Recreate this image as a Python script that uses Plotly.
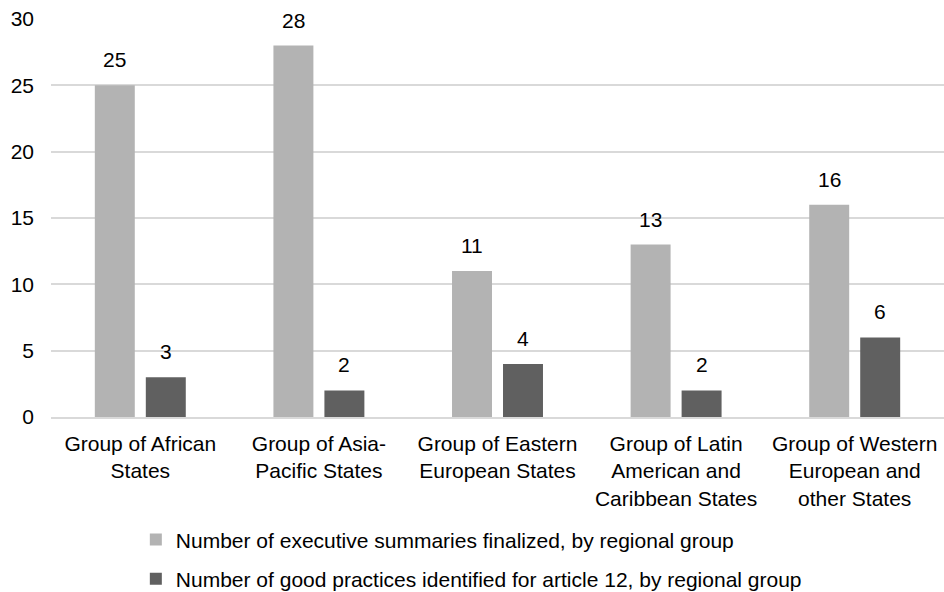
import plotly.graph_objects as go

categories = [
    "Group of African<br>States",
    "Group of Asia-<br>Pacific States",
    "Group of Eastern<br>European States",
    "Group of Latin<br>American and<br>Caribbean States",
    "Group of Western<br>European and<br>other States",
]
series_names = [
    "Number of executive summaries finalized, by regional group",
    "Number of good practices identified for article 12, by regional group",
]
summaries = [25, 28, 11, 13, 16]
good_practices = [3, 2, 4, 2, 6]
colors = ["#b3b3b3", "#606060"]
y_ticks = [0, 5, 10, 15, 20, 25, 30]

FONT = "Liberation Sans, Arial, sans-serif"
FS = 21

fig = go.Figure()
for i, (name, vals, col) in enumerate(zip(series_names, [summaries, good_practices], colors)):
    fig.add_trace(go.Bar(
        x=categories, y=vals, name=name, legendgroup=f"g{i}",
        marker=dict(color=col, line=dict(width=0)),
    ))

# data labels
shifts = [-25.5, 25.5]
for vals, sh in zip([summaries, good_practices], shifts):
    for c, v in zip(categories, vals):
        fig.add_annotation(
            x=c, y=v, text=str(v), showarrow=False,
            xref="x", yref="y", xshift=sh, yshift=12,
            yanchor="bottom", xanchor="center",
            font=dict(family=FONT, size=FS, color="#000000"),
        )

fig.update_layout(
    width=944, height=592,
    margin=dict(l=51, r=0, t=19, b=175, autoexpand=False),
    paper_bgcolor="white", plot_bgcolor="white",
    barmode="group", bargap=0.429, bargroupgap=0.216,
    font=dict(family=FONT, size=FS, color="#000000"),
    showlegend=True,
    legend=dict(
        orientation="v", x=0.095, xanchor="left", y=-0.257, yanchor="top",
        font=dict(family=FONT, size=FS, color="#000000"),
        itemwidth=30, tracegroupgap=9,
        bgcolor="rgba(0,0,0,0)",
    ),
)
fig.update_yaxes(
    range=[0, 30], tickvals=y_ticks, showgrid=True, gridcolor="#d9d9d9",
    gridwidth=1.5, zeroline=False, showline=False, ticks="", automargin=False,
    ticklabelstandoff=16, tickfont=dict(family=FONT, size=FS, color="#000000"),
)
fig.update_xaxes(
    showline=True, linecolor="#d9d9d9", linewidth=1.5, ticks="", automargin=False,
    ticklabelstandoff=7, tickfont=dict(family=FONT, size=FS, color="#000000"),
    tickangle=0,
)

fig.write_html("out.html")
